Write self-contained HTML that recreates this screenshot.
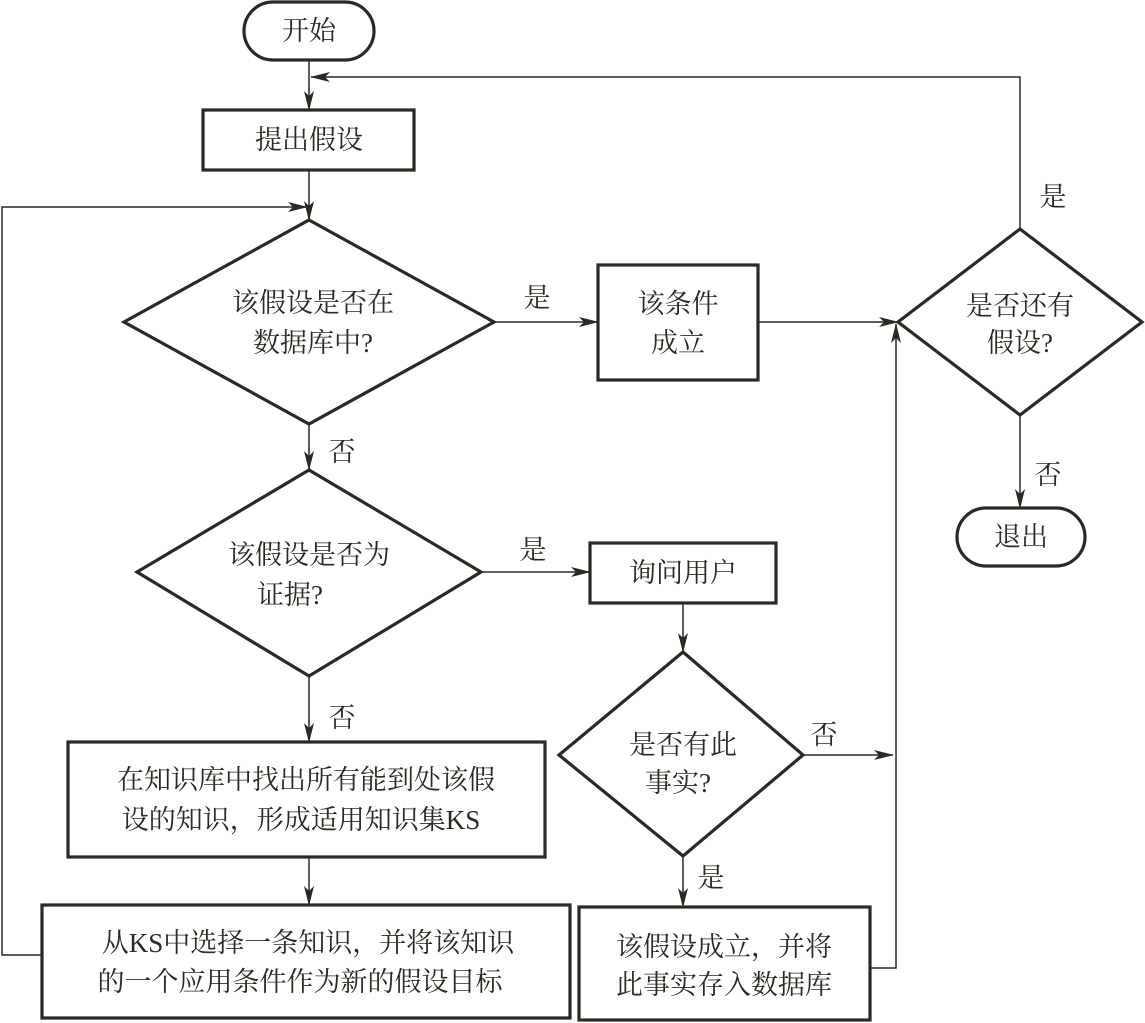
<!DOCTYPE html>
<html><head><meta charset="utf-8"><style>
html,body{margin:0;padding:0;background:#fff}
svg{display:block}
text{font-family:"Liberation Serif","Noto Serif CJK SC","Noto Sans CJK SC",serif;font-size:27px;fill:#2a2a22;text-anchor:middle;dominant-baseline:central}
.b{fill:#fff;stroke:#2a2a22;stroke-width:3.2}
.l{fill:none;stroke:#2a2a22;stroke-width:1.5}
</style></head><body>
<svg width="1145" height="1023" viewBox="0 0 1145 1023" xmlns="http://www.w3.org/2000/svg">
<defs><marker id="a" markerWidth="20" markerHeight="10" refX="19" refY="5" orient="auto" markerUnits="userSpaceOnUse"><path d="M0,0 L20,5 L0,10 L5,5 Z" fill="#2a2a22"/></marker></defs>
<!-- connectors -->
<path class="l" d="M309,60 V110" marker-end="url(#a)"/>
<path class="l" d="M1020,229 V77 H311" marker-end="url(#a)"/>
<path class="l" d="M309,170 V220" marker-end="url(#a)"/>
<path class="l" d="M42,955 H2 V207 H307" marker-end="url(#a)"/>
<path class="l" d="M494,322 H598" marker-end="url(#a)"/>
<path class="l" d="M758,322 H898" marker-end="url(#a)"/>
<path class="l" d="M1020,415 V508" marker-end="url(#a)"/>
<path class="l" d="M309,424 V470" marker-end="url(#a)"/>
<path class="l" d="M481,572 H590" marker-end="url(#a)"/>
<path class="l" d="M683,603 V652" marker-end="url(#a)"/>
<path class="l" d="M803,755 H893" marker-end="url(#a)"/>
<path class="l" d="M870,968 H896 V324" marker-end="url(#a)"/>
<path class="l" d="M683,856 V907" marker-end="url(#a)"/>
<path class="l" d="M309,676 V742" marker-end="url(#a)"/>
<path class="l" d="M309,857 V905" marker-end="url(#a)"/>
<!-- shapes -->
<rect class="b" x="244" y="2" width="130" height="58" rx="29"/>
<text x="309" y="31">开始</text>
<rect class="b" x="203" y="110" width="211" height="60"/>
<text x="309" y="140">提出假设</text>
<polygon class="b" points="309,220 494,322 309,424 124,322"/>
<text x="313" y="303">该假设是否在</text>
<text x="313" y="343">数据库中?</text>
<text x="537" y="298">是</text>
<rect class="b" x="598" y="265" width="160" height="115"/>
<text x="678" y="304">该条件</text>
<text x="678" y="343">成立</text>
<polygon class="b" points="1020,229 1142,322 1020,415 898,322"/>
<text x="1020" y="306">是否还有</text>
<text x="1020" y="343">假设?</text>
<text x="1053" y="197">是</text>
<text x="1048" y="475">否</text>
<rect class="b" x="957" y="508" width="128" height="58" rx="29"/>
<text x="1021" y="537">退出</text>
<text x="342" y="452">否</text>
<polygon class="b" points="309,470 481,572 309,676 137,572"/>
<text x="309" y="555">该假设是否为</text>
<text x="290" y="595">证据?</text>
<text x="533" y="550">是</text>
<rect class="b" x="590" y="543" width="186" height="60"/>
<text x="683" y="573">询问用户</text>
<polygon class="b" points="683,652 803,755 683,856 559,755"/>
<text x="683" y="745">是否有此</text>
<text x="678" y="783">事实?</text>
<text x="824" y="735">否</text>
<text x="711" y="878">是</text>
<rect class="b" x="579" y="907" width="291" height="113"/>
<text x="724" y="947">该假设成立，并将</text>
<text x="724" y="985">此事实存入数据库</text>
<text x="342" y="718">否</text>
<rect class="b" x="68" y="742" width="477" height="115"/>
<text x="306" y="780">在知识库中找出所有能到处该假</text>
<text x="301" y="820">设的知识，形成适用知识集KS</text>
<rect class="b" x="42" y="905" width="528" height="113"/>
<text x="308" y="943">从KS中选择一条知识，并将该知识</text>
<text x="300" y="982">的一个应用条件作为新的假设目标</text>
</svg>
</body></html>
